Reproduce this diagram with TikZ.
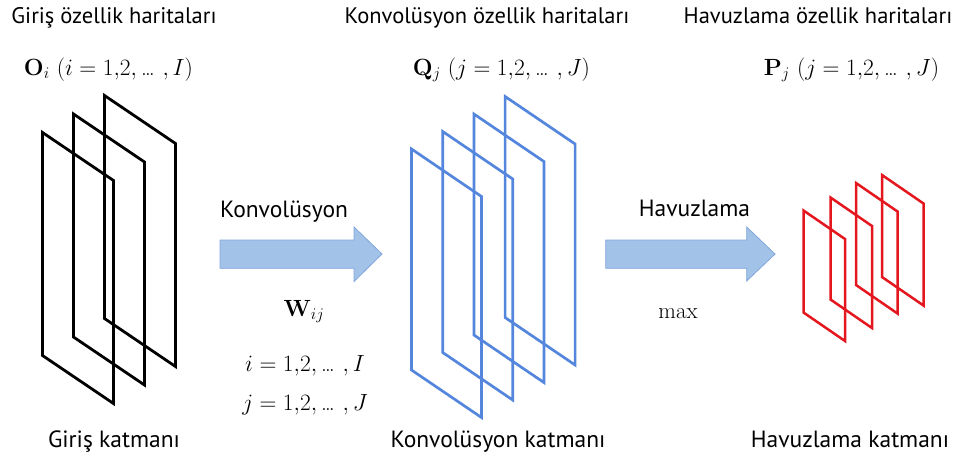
\documentclass[tikz,border=0pt]{standalone}
\usepackage{graphicx}
\usepackage[no-math]{fontspec}
\newfontfamily\ptsans{PT Sans}
\definecolor{sheetblue}{RGB}{84,134,221}
\definecolor{sheetred}{RGB}{228,22,30}
\definecolor{arrfill}{RGB}{162,194,232}
\definecolor{arrdraw}{RGB}{128,166,219}
\newcommand\mysheet[6]{\draw[#1] (#2,#3) -- ++(#4,#5) -- ++(0,#6) -- ++(-#4,-#5) -- cycle;}
\newcommand\eldots{\mathinner{\mbox{…}}}
\newcommand\bigmath[1]{\scalebox{1.13}{$#1$}}
\begin{document}
\begin{tikzpicture}[x=1pt,y=-1pt,
  lbl/.style={anchor=base,inner sep=0pt,font=\ptsans\fontsize{23.5}{27}\selectfont},
  toplbl/.style={lbl,font=\ptsans\fontsize{22.5}{26}\selectfont},
  mth/.style={anchor=base,inner sep=0pt,font=\fontsize{20.74}{25}\selectfont},
  blk/.style={draw=black,line width=2.8pt,line join=miter},
  blu/.style={draw=sheetblue,line width=2.7pt,line join=miter},
  rd/.style={draw=sheetred,line width=2.5pt,line join=miter},
  fatarrow/.style={fill=arrfill,draw=arrdraw,line width=0.8pt,line join=miter}]
\useasboundingbox (0,0) rectangle (961,456);
% input sheets
\mysheet{blk}{42.5}{132.5}{71}{48}{223}
\mysheet{blk}{73.5}{114}{71}{48}{223}
\mysheet{blk}{104.5}{95.5}{71}{48}{223}
% convolution sheets
\mysheet{blu}{411.5}{149}{70}{47.5}{221}
\mysheet{blu}{442.7}{131.5}{70}{47.5}{221}
\mysheet{blu}{473.9}{114}{70}{47.5}{221}
\mysheet{blu}{505.1}{96.5}{70}{47.5}{221}
% pooling sheets
\mysheet{rd}{803.5}{210.5}{41.5}{28.5}{102}
\mysheet{rd}{830.5}{197.5}{41.5}{28.5}{102}
\mysheet{rd}{856}{183}{41.5}{28.5}{102}
\mysheet{rd}{882}{175}{41.5}{28.5}{102}
% fat arrows
\draw[fatarrow] (220,240) -- (354,240) -- (354,227) -- (382,254) -- (354,281.5) -- (354,268.3) -- (220,268.3) -- cycle;
\draw[fatarrow] (605.7,240) -- (746.7,240) -- (746.7,227) -- (775,254) -- (746.7,281) -- (746.7,268.3) -- (605.7,268.3) -- cycle;
% texts
\node[toplbl] (t1) at (114,23) {Giriş özellik haritaları};
\node[toplbl] (t2) at (487,23) {Konvolüsyon özellik haritaları};
\node[toplbl] (t3) at (818,23) {Havuzlama özellik haritaları};
\node[mth] (m1) at (108.5,75) {\bigmath{\mathbf{O}_i\ (i = 1{,}2, \eldots\,, I)}};
\node[mth] (m2) at (501.5,75) {\bigmath{\mathbf{Q}_j\ (j = 1{,}2, \eldots\,, J)}};
\node[mth] (m3) at (851.5,75) {\bigmath{\mathbf{P}_j\ (j = 1{,}2, \eldots\,, J)}};
\node[lbl] (a1) at (284,217) {Konvolüsyon};
\node[lbl] (a2) at (694.5,216) {Havuzlama};
\node[mth] (w) at (304,316) {\bigmath{\mathbf{W}_{ij}}};
\node[mth] (ii) at (305,371) {\bigmath{i = 1{,}2, \eldots\,, I}};
\node[mth] (jj) at (305,410) {\bigmath{j = 1{,}2, \eldots\,, J}};
\node[mth] (mx) at (678,318) {\scalebox{1.1}{max}};
\node[lbl] (b1) at (114,447) {Giriş katmanı};
\node[lbl] (b2) at (498,447) {Konvolüsyon katmanı};
\node[lbl] (b3) at (850,447) {Havuzlama katmanı};
\end{tikzpicture}
\end{document}
